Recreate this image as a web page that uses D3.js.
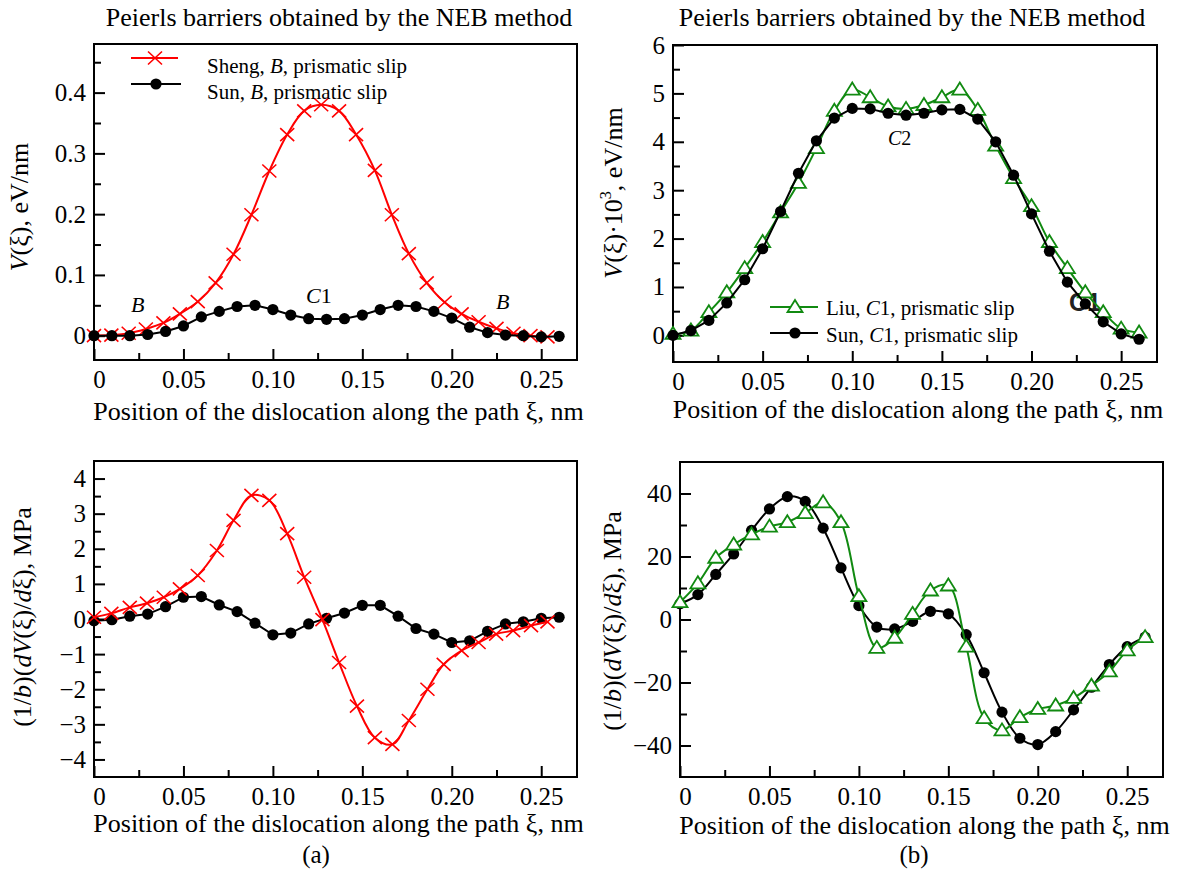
<!DOCTYPE html>
<html><head><meta charset="utf-8">
<script src="https://cdn.jsdelivr.net/npm/d3@7"></script>
<style>
body{margin:0;background:#fff}
svg{display:block;font-family:"Liberation Serif","Times New Roman",serif}
</style>
</head><body>
<svg id="chart" width="1186" height="872"></svg>
<script>
// ---------- data ----------
const xTickValues = [0, 0.05, 0.10, 0.15, 0.20, 0.25];
const xMinorValues = [0.025, 0.075, 0.125, 0.175, 0.225];

const gridX = [0, 0.01, 0.02, 0.03, 0.04, 0.05, 0.06, 0.07, 0.08, 0.09, 0.10, 0.11, 0.12, 0.13,
               0.14, 0.15, 0.16, 0.17, 0.18, 0.19, 0.20, 0.21, 0.22, 0.23, 0.24, 0.25, 0.26];

// (a) top: Sheng, B
const shengBX = [0, 0.0097, 0.0194, 0.029, 0.0388, 0.048, 0.058, 0.068, 0.078, 0.088, 0.098, 0.108, 0.1175, 0.127,
                 0.137, 0.1465, 0.157, 0.1665, 0.176, 0.186, 0.196, 0.2055, 0.215, 0.225, 0.2345, 0.244, 0.2535];
const shengBV = [0, 0.001, 0.004, 0.011, 0.021, 0.036, 0.056, 0.087, 0.134, 0.199, 0.271, 0.331, 0.370, 0.380,
                 0.370, 0.331, 0.272, 0.199, 0.135, 0.087, 0.055, 0.036, 0.023, 0.012, 0.004, 0.0, -0.002];
// (a) top: Sun, B
const sunBV = [0, 0, 0, 0.002, 0.007, 0.016, 0.031, 0.040, 0.048, 0.050, 0.043, 0.034, 0.028, 0.027,
               0.028, 0.034, 0.043, 0.050, 0.048, 0.040, 0.029, 0.014, 0.005, 0.001, 0, -0.002, -0.001];
// (b) top: Liu, C1 and Sun, C1 (x10^3)
const liuC1V = [0.03, 0.10, 0.48, 0.89, 1.39, 1.93, 2.54, 3.15, 3.87, 4.64, 5.08, 4.92, 4.73, 4.68,
                4.76, 4.92, 5.08, 4.66, 3.92, 3.25, 2.67, 1.93, 1.39, 0.89, 0.48, 0.14, 0.06];
const sunC1V = [0, 0.10, 0.31, 0.67, 1.15, 1.79, 2.56, 3.35, 4.02, 4.49, 4.69, 4.68, 4.59, 4.55,
                4.59, 4.66, 4.67, 4.47, 4.00, 3.31, 2.51, 1.74, 1.10, 0.65, 0.28, 0.03, -0.08];
// (a) bottom: stress
const shengBSX = [0, 0.0097, 0.02, 0.0296, 0.039, 0.048, 0.058, 0.0687, 0.078, 0.088, 0.098, 0.108, 0.1175, 0.1277,
                  0.137, 0.147, 0.157, 0.1668, 0.176, 0.1864, 0.1955, 0.2055, 0.215, 0.2248, 0.2343, 0.2443, 0.2535];
const shengBS = [0.05, 0.16, 0.33, 0.45, 0.62, 0.86, 1.24, 1.95, 2.81, 3.52, 3.38, 2.43, 1.19, -0.02,
                 -1.24, -2.48, -3.38, -3.57, -2.89, -2.0, -1.29, -0.9, -0.67, -0.43, -0.33, -0.19, -0.08];
const sunBS = [-0.05, -0.02, 0.08, 0.14, 0.35, 0.62, 0.64, 0.40, 0.21, -0.12, -0.45, -0.40, -0.14, 0.02,
               0.17, 0.39, 0.39, 0.08, -0.27, -0.43, -0.67, -0.62, -0.35, -0.14, -0.08, 0.02, 0.05];
// (b) bottom: stress
const liuC1S = [5.5, 11.5, 19.6, 23.8, 27, 29.5, 30.9, 33.8, 37.2, 30.9, 7.4, -9, -5.8, 1.8,
                9.2, 10.8, -8.6, -31.3, -35.2, -31, -28.4, -27.3, -24.9, -21, -16.5, -9.8, -5.6];
const sunC1S = [5, 7.9, 14.3, 20.8, 28.3, 35.1, 39, 37.5, 29, 16.4, 4.4, -2.4, -3, -0.6,
                2.6, 1.8, -4.8, -16.9, -29.4, -37.7, -39.7, -35.6, -28.7, -21.5, -14.3, -8.6, -5.6];

const yTicksTL = [0, 0.1, 0.2, 0.3, 0.4], yMinorTL = [0.05, 0.15, 0.25, 0.35, 0.45];
const yTicksTR = [0, 1, 2, 3, 4, 5, 6], yMinorTR = [0.5, 1.5, 2.5, 3.5, 4.5, 5.5];
const yTicksBL = [-4, -3, -2, -1, 0, 1, 2, 3, 4], yMinorBL = [-3.5, -2.5, -1.5, -0.5, 0.5, 1.5, 2.5, 3.5];
const yTicksBR = [-40, -20, 0, 20, 40], yMinorBR = [-30, -10, 10, 30];

const titleText = "Peierls barriers obtained by the NEB method";
const xTitleText = "Position of the dislocation along the path ξ, nm";

// ---------- drawing ----------
const svg = d3.select("#chart");
svg.append("rect").attr("width", 1186).attr("height", 872).attr("fill", "#fff");
const RED = "#ff0000", GREEN = "#118a11", BLACK = "#000";
const SERIF = '"Liberation Serif","Times New Roman",serif';

const fmtNum = d => d === 0 ? "0" : (d < 0 ? "\u2212" + Math.abs(d) : String(d));

function panel(o) {
  const x = d3.scaleLinear().domain([0, 0.27]).range([o.left, o.right]);
  const y = d3.scaleLinear().domain(o.yDomain).range([o.bottom, o.top]);
  const g = svg.append("g");
  const ax = g.append("g").attr("transform", `translate(0,${o.bottom})`)
    .call(d3.axisBottom(x).tickValues(xTickValues).tickSize(-11).tickSizeOuter(0).tickPadding(10)
      .tickFormat(d => d === 0 ? "0" : d3.format(".2f")(d)));
  ax.select(".domain").remove();
  ax.selectAll("text").filter(d => d === 0).attr("dx", 5);
  const axm = g.append("g").attr("transform", `translate(0,${o.bottom})`)
    .call(d3.axisBottom(x).tickValues(xMinorValues).tickSize(-7).tickSizeOuter(0).tickFormat(""));
  axm.select(".domain").remove();
  const ay = g.append("g").attr("transform", `translate(${o.left},0)`)
    .call(d3.axisLeft(y).tickValues(o.yTicks).tickSize(-11).tickSizeOuter(0).tickPadding(8).tickFormat(o.yFmt));
  ay.select(".domain").remove();
  const aym = g.append("g").attr("transform", `translate(${o.left},0)`)
    .call(d3.axisLeft(y).tickValues(o.yMinor).tickSize(-7).tickSizeOuter(0).tickFormat(""));
  aym.select(".domain").remove();
  [ax, axm, ay, aym].forEach(a => {
    a.attr("font-family", SERIF).attr("font-size", 25);
    a.selectAll("line").attr("stroke", "#000").attr("stroke-width", 2);
    a.selectAll("text").attr("fill", "#000");
  });
  g.append("rect").attr("x", o.left).attr("y", o.top).attr("width", o.right - o.left)
    .attr("height", o.bottom - o.top).attr("fill", "none").attr("stroke", "#000").attr("stroke-width", 2);
  g.append("text").attr("x", (o.left + o.right) / 2 + 3).attr("y", o.xTitleY).attr("text-anchor", "middle")
    .attr("font-size", 26).text(xTitleText);
  return { x, y, g };
}

function drawLine(p, xs, ys, color, curve) {
  const pts = xs.map((v, i) => [v, ys[i]]);
  p.g.append("path").datum(pts).attr("fill", "none").attr("stroke", color).attr("stroke-width", 2)
    .attr("d", d3.line().x(d => p.x(d[0])).y(d => p.y(d[1])).curve(curve));
  return pts;
}
function crosses(p, pts) {
  p.g.selectAll(null).data(pts).enter().append("path")
    .attr("transform", d => `translate(${p.x(d[0])},${p.y(d[1])})`)
    .attr("d", "M-7,-6.5L7,6.5M-7,6.5L7,-6.5").attr("stroke", RED).attr("stroke-width", 1.6).attr("fill", "none");
}
function dots(p, pts) {
  p.g.selectAll(null).data(pts).enter().append("circle")
    .attr("cx", d => p.x(d[0])).attr("cy", d => p.y(d[1])).attr("r", 5.6).attr("fill", BLACK);
}
function tris(p, pts) {
  p.g.selectAll(null).data(pts).enter().append("path")
    .attr("transform", d => `translate(${p.x(d[0])},${p.y(d[1])})`)
    .attr("d", "M0,-7L7.5,5L-7.5,5Z").attr("stroke", GREEN).attr("stroke-width", 1.8).attr("fill", "#fff");
}
function italicText(parent, x, y, parts, size, extra) {
  const t = parent.append("text").attr("x", x).attr("y", y).attr("font-size", size);
  if (extra) extra(t);
  parts.forEach(pt => {
    const s = t.append("tspan").text(pt[0]);
    if (pt[1] === "i") s.attr("font-style", "italic");
    if (pt[1] === "sup") s.attr("font-size", size * 0.62).attr("dy", -size * 0.42);
    if (pt[1] === "unsup") s.attr("dy", size * 0.42);
  });
  return t;
}

// ---- titles ----
svg.append("text").attr("x", 339).attr("y", 26).attr("text-anchor", "middle").attr("font-size", 26).text(titleText);
svg.append("text").attr("x", 912).attr("y", 26).attr("text-anchor", "middle").attr("font-size", 26).text(titleText);

// ---- top-left ----
const pTL = panel({ left: 94, right: 577, top: 44, bottom: 360, yDomain: [-0.04, 0.48],
  yTicks: yTicksTL, yMinor: yMinorTL, yFmt: fmtNum, xTitleY: 420 });
italicText(svg, 0, 0, [["V", "i"], ["(ξ), eV/nm"]], 26, t => t.attr("text-anchor", "middle").attr("transform", "translate(28,207) rotate(-90)"));
italicText(pTL.g, 131, 312, [["B", "i"]], 22);
italicText(pTL.g, 306, 303, [["C", "i"], ["1"]], 22);
italicText(pTL.g, 496, 309, [["B", "i"]], 22);
const tlRed = drawLine(pTL, shengBX, shengBV, RED, d3.curveCatmullRom);
crosses(pTL, tlRed);
const tlBlk = drawLine(pTL, gridX, sunBV, BLACK, d3.curveLinear);
dots(pTL, tlBlk);
// legend
pTL.g.append("line").attr("x1", 131).attr("x2", 178).attr("y1", 58).attr("y2", 58).attr("stroke", RED).attr("stroke-width", 2);
crosses({ g: pTL.g, x: v => v, y: v => v }, [[155, 58]]);
pTL.g.append("line").attr("x1", 131).attr("x2", 181).attr("y1", 84).attr("y2", 84).attr("stroke", BLACK).attr("stroke-width", 2);
dots({ g: pTL.g, x: v => v, y: v => v }, [[156, 84]]);
italicText(pTL.g, 207, 73, [["Sheng, "], ["B", "i"], [", prismatic slip"]], 21);
italicText(pTL.g, 207, 99, [["Sun, "], ["B", "i"], [", prismatic slip"]], 21);

// ---- top-right ----
const pTR = panel({ left: 673, right: 1157, top: 45, bottom: 362, yDomain: [-0.55, 6],
  yTicks: yTicksTR, yMinor: yMinorTR, yFmt: fmtNum, xTitleY: 418 });
italicText(svg, 0, 0, [["V", "i"], ["(ξ)·10"], ["3", "sup"], [", eV/nm", "unsup"]], 26,
  t => t.attr("text-anchor", "middle").attr("transform", "translate(622,193) rotate(-90)"));
pTR.g.append("text").attr("x", 1085).attr("y", 311).attr("text-anchor", "middle")
  .attr("font-family", '"Liberation Sans",Arial,sans-serif').attr("font-weight", "bold").attr("font-size", 25)
  .attr("fill", "#222").text("C1");
italicText(pTR.g, 888, 145, [["C", "i"], ["2"]], 20);
const trG = drawLine(pTR, gridX, liuC1V, GREEN, d3.curveCatmullRom);
tris(pTR, trG);
const trB = drawLine(pTR, gridX, sunC1V, BLACK, d3.curveLinear);
dots(pTR, trB);
pTR.g.append("line").attr("x1", 770).attr("x2", 818).attr("y1", 307).attr("y2", 307).attr("stroke", GREEN).attr("stroke-width", 2);
tris({ g: pTR.g, x: v => v, y: v => v }, [[795, 307]]);
pTR.g.append("line").attr("x1", 770).attr("x2", 818).attr("y1", 333).attr("y2", 333).attr("stroke", BLACK).attr("stroke-width", 2);
dots({ g: pTR.g, x: v => v, y: v => v }, [[795, 333]]);
italicText(pTR.g, 826, 315, [["Liu, "], ["C", "i"], ["1, prismatic slip"]], 21);
italicText(pTR.g, 826, 342, [["Sun, "], ["C", "i"], ["1, prismatic slip"]], 21);

// ---- bottom-left ----
const pBL = panel({ left: 94, right: 577, top: 461, bottom: 777, yDomain: [-4.5, 4.5],
  yTicks: yTicksBL, yMinor: yMinorBL, yFmt: fmtNum, xTitleY: 832 });
italicText(svg, 0, 0, [["(1/"], ["b", "i"], [")("], ["dV", "i"], ["(ξ)/"], ["d", "i"], ["ξ), MPa"]], 26,
  t => t.attr("text-anchor", "middle").attr("transform", "translate(31,617) rotate(-90)"));
const blB = drawLine(pBL, gridX, sunBS, BLACK, d3.curveLinear);
dots(pBL, blB);
const blR = drawLine(pBL, shengBSX, shengBS, RED, d3.curveCatmullRom);
crosses(pBL, blR);
svg.append("text").attr("x", 316).attr("y", 863).attr("text-anchor", "middle").attr("font-size", 25).text("(a)");

// ---- bottom-right ----
const pBR = panel({ left: 680, right: 1163, top: 462, bottom: 777, yDomain: [-50, 50],
  yTicks: yTicksBR, yMinor: yMinorBR, yFmt: fmtNum, xTitleY: 834 });
italicText(svg, 0, 0, [["(1/"], ["b", "i"], [")("], ["dV", "i"], ["(ξ)/"], ["d", "i"], ["ξ), MPa"]], 26,
  t => t.attr("text-anchor", "middle").attr("transform", "translate(621,621) rotate(-90)"));
const brB = drawLine(pBR, gridX, sunC1S, BLACK, d3.curveCatmullRom);
dots(pBR, brB);
const brG = drawLine(pBR, gridX, liuC1S, GREEN, d3.curveCatmullRom);
tris(pBR, brG);
svg.append("text").attr("x", 914).attr("y", 863).attr("text-anchor", "middle").attr("font-size", 25).text("(b)");
</script>
</body></html>
